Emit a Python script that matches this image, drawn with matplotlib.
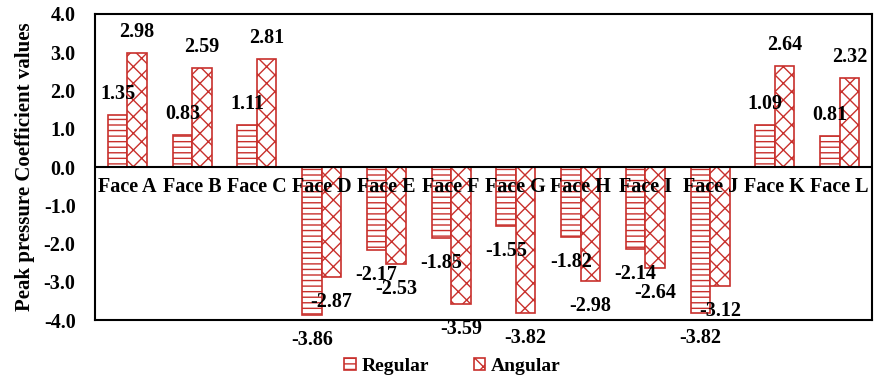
import numpy as np
import matplotlib.pyplot as plt

faces = ["Face A", "Face B", "Face C", "Face D", "Face E", "Face F",
         "Face G", "Face H", "Face I", "Face J", "Face K", "Face L"]
regular = [1.35, 0.83, 1.11, -3.86, -2.17, -1.85, -1.55, -1.82, -2.14, -3.82, 1.09, 0.81]
angular = [2.98, 2.59, 2.81, -2.87, -2.53, -3.59, -3.82, -2.98, -2.64, -3.12, 2.64, 2.32]

red = "#C8302C"
plt.rcParams["font.family"] = ["Liberation Serif", "DejaVu Serif"]
plt.rcParams["font.weight"] = "bold"
plt.rcParams["hatch.linewidth"] = 1.0

fig = plt.figure(figsize=(8.74, 3.77), dpi=100)
ax = fig.add_axes([0.1087, 0.151, 0.889, 0.812])

x = np.arange(len(faces))
w = 0.3
b1 = ax.bar(x - w / 2, regular, w, color="white", edgecolor=red, hatch="---",
            linewidth=1.2, label="Regular")
b2 = ax.bar(x + w / 2, angular, w, color="white", edgecolor=red, hatch="xx",
            linewidth=1.2, label="Angular")

# data labels
for bars, vals in [(b1, regular), (b2, angular)]:
    for bar, v in zip(bars, vals):
        dy = 21 if v > 0 else -25
        ax.annotate(f"{v:.2f}", (bar.get_x() + bar.get_width() / 2, v),
                    xytext=(0, dy), textcoords="offset pixels",
                    ha="center", va="center", fontsize=14.5, fontweight="bold")

# category names just under the zero line
ax.axhline(0, color="black", linewidth=1.5)
for i, name in enumerate(faces):
    ax.annotate(name, (i, 0), xytext=(0, -10), textcoords="offset pixels",
                ha="center", va="top", fontsize=14.5, fontweight="bold")

ax.set_xlim(-0.5, len(faces) - 0.5)
ax.set_ylim(-4, 4)
ax.set_xticks([])
ax.set_yticks(np.arange(-4, 4.1, 1))
ax.set_yticklabels([f"{t:.1f}" for t in np.arange(-4, 4.1, 1)])
ax.tick_params(axis="y", length=0, pad=14, labelsize=14.5)
for s in ax.spines.values():
    s.set_linewidth(1.5)
ax.set_ylabel("Peak pressure Coefficient values", fontsize=15, fontweight="bold", labelpad=6)

ax.legend(loc="upper center", bbox_to_anchor=(0.46, -0.085), ncol=2, frameon=False,
          fontsize=14, handlelength=0.6, handleheight=0.6, columnspacing=2.3,
          handletextpad=0.3, borderaxespad=0.2)

fig.savefig("out.png", dpi=100)
